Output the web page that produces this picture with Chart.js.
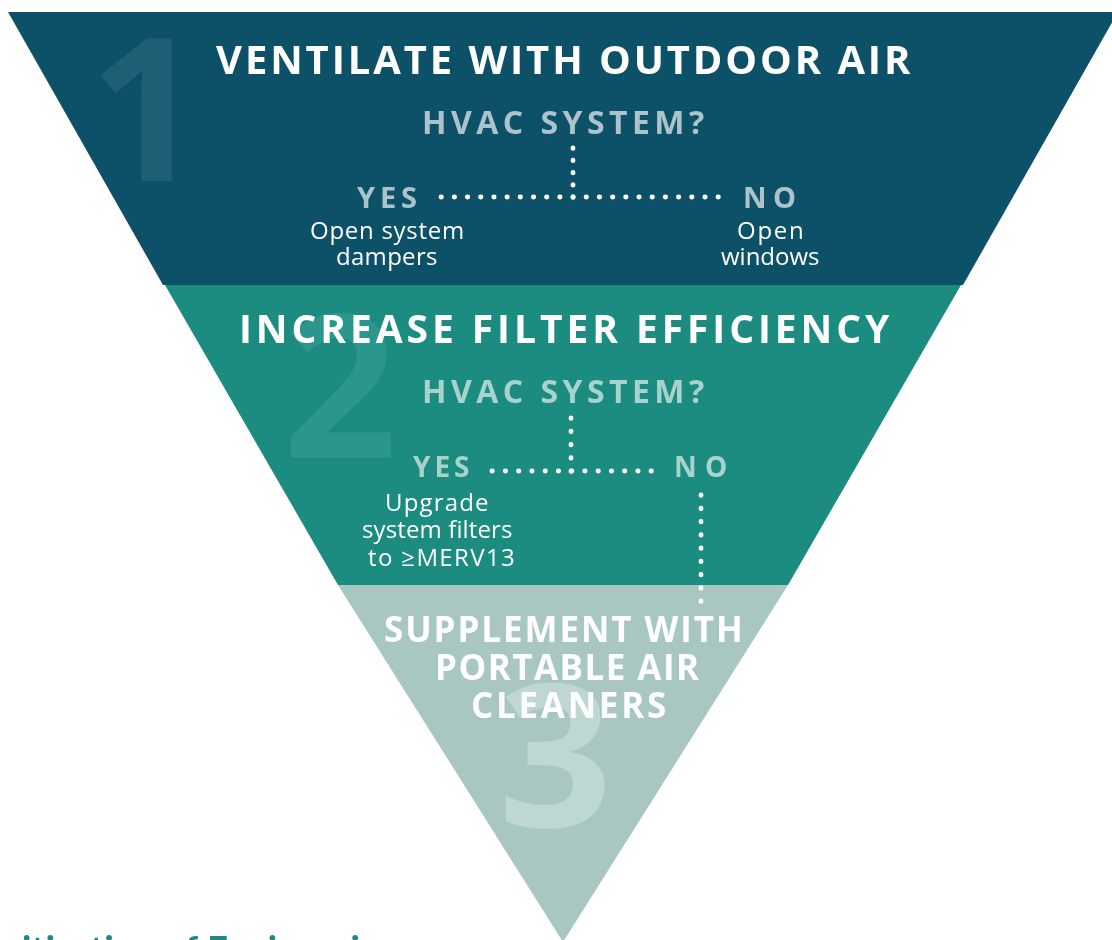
<!DOCTYPE html>
<html>
<head>
<meta charset="utf-8">
<script src="https://cdn.jsdelivr.net/npm/chart.js@4.4.1/dist/chart.umd.min.js"></script>
<style>
  html, body { margin: 0; padding: 0; background: #fff; }
  #wrap { width: 1112px; height: 940px; }
</style>
</head>
<body>
<div id="wrap"><canvas id="pyramid" width="1112" height="940"></canvas></div>
<script>
// ----- data ---------------------------------------------------------------
const stageNumbers = ["1", "2", "3"];
const stageTitles = [
  ["VENTILATE WITH OUTDOOR AIR"],
  ["INCREASE FILTER EFFICIENCY"],
  ["SUPPLEMENT WITH", "PORTABLE AIR", "CLEANERS"],
];
const question = "HVAC SYSTEM?";
const answers = ["YES", "NO"];
const yesActions = [["Open system", "dampers"], ["Upgrade", "system filters", "to \u2265MERV13"]];
const noActions = [["Open", "windows"]];
const footerText = "Prioritization of Engineering";

// band outline (chart units: x across, y down from top)
const bandTop = [12, 285, 585];
const bandBottom = [285, 585, 942];
const bandTopHalfWidth = [555, 398, 225];
const bandBottomHalfWidth = [400, 225, 0];
const centreX = 563;

// dotted connectors [x1, y1, x2, y2]
const connectors = [
  [573, 148, 573, 198], [441, 197, 719, 197],
  [571, 418, 571, 472], [492, 471, 652, 471], [701, 495, 701, 602],
];
const connectorGap = [12.25, 13.19, 13.25, 13.25, 13.25];

// ----- styling ------------------------------------------------------------
const palette = {
  bands: ["#0d5169", "#1c8c80", "#a9c7c2"],
  numbers: ["#1f5e75", "#2b968b", "#bfd7d3"],
  question: ["#adc3cc", "#a8d3cc"],
  footer: "#1c8c80",
};
const FONT = "'Open Sans', Lato, sans-serif";

const bandSets = bandTop.map((top, i) => ({
  data: [
    { x: centreX - bandTopHalfWidth[i], y: top },
    { x: centreX + bandTopHalfWidth[i], y: top },
    { x: centreX + bandBottomHalfWidth[i], y: bandBottom[i] },
    { x: centreX - bandBottomHalfWidth[i], y: bandBottom[i] },
  ],
  showLine: true,
  fill: "shape",
  backgroundColor: palette.bands[i],
  borderWidth: 0,
  pointRadius: 0,
  order: 2,
}));

// dotted lines sit above the bands (lower order draws on top)
const dotSets = connectors.map((c, i) => ({
  data: [{ x: c[0], y: c[1] }, { x: c[2], y: c[3] }],
  showLine: true,
  fill: false,
  borderColor: "#ffffff",
  borderWidth: 4.8,
  borderDash: [0.4, connectorGap[i] - 0.4],
  borderCapStyle: "round",
  pointRadius: 0,
  order: 1,
}));

// text placed by ink extents: left, right, baseline
function span(ctx, str, left, right, base, size, weight, color) {
  ctx.save();
  ctx.font = `${weight} ${size}px ${FONT}`;
  ctx.fillStyle = color;
  ctx.textAlign = "left";
  ctx.textBaseline = "alphabetic";
  if ("letterSpacing" in ctx) ctx.letterSpacing = "0px";
  const m = ctx.measureText(str);
  const ink = m.actualBoundingBoxLeft + m.actualBoundingBoxRight;
  const n = [...str].length;
  if (n > 1 && "letterSpacing" in ctx) {
    ctx.letterSpacing = (right - left - ink) / (n - 1) + "px";
  }
  ctx.fillText(str, left + m.actualBoundingBoxLeft, base);
  ctx.restore();
}

const labelsPlugin = {
  id: "labels",
  afterDatasetsDraw(chart) {
    const { ctx } = chart;
    const sx = chart.scales.x, sy = chart.scales.y;
    const T = (str, l, r, b, size, weight, color) =>
      span(ctx, str, sx.getPixelForValue(l), sx.getPixelForValue(r), sy.getPixelForValue(b), size, weight, color);

    // big stage numbers
    T(stageNumbers[0], 100, 178, 181, 200, 700, palette.numbers[0]);
    T(stageNumbers[1], 290, 397, 457, 200, 700, palette.numbers[1]);
    T(stageNumbers[2], 505, 617, 827, 200, 700, palette.numbers[2]);

    // stage 1
    T(stageTitles[0][0], 216, 911, 74, 40, 700, "#fff");
    T(question, 424, 704, 134, 32, 700, palette.question[0]);
    T(answers[0], 357, 416, 208, 29, 700, palette.question[0]);
    T(answers[1], 745, 795, 208, 29, 700, palette.question[0]);
    T(yesActions[0][0], 311, 463, 239, 24, 400, "#fff");
    T(yesActions[0][1], 337, 437, 265, 24, 400, "#fff");
    T(noActions[0][0], 738, 802, 239, 24, 400, "#fff");
    T(noActions[0][1], 721, 819, 265, 24, 400, "#fff");

    // stage 2
    T(stageTitles[1][0], 242, 890, 343, 39, 700, "#fff");
    T(question, 424, 704, 403, 32, 700, palette.question[1]);
    T(answers[0], 413, 469, 477, 28, 700, palette.question[1]);
    T(answers[1], 676, 726, 477, 28, 700, palette.question[1]);
    T(yesActions[1][0], 387, 488, 511, 24, 400, "#fff");
    T(yesActions[1][1], 363, 512, 538, 24, 400, "#fff");
    T(yesActions[1][2], 368, 514, 566, 24, 400, "#fff");

    // stage 3
    T(stageTitles[2][0], 385, 740, 642, 35, 700, "#fff");
    T(stageTitles[2][1], 438, 700, 680, 35, 700, "#fff");
    T(stageTitles[2][2], 473, 665, 718, 35, 700, "#fff");

    // footer caption, mostly below the bottom edge (only ascender tops show)
    ctx.save();
    const FOOT = "Lato, 'Open Sans', sans-serif";
    ctx.fillStyle = palette.footer;
    ctx.textAlign = "left";
    ctx.font = `700 32px ${FOOT}`;
    const probe = ctx.measureText("itization of ").width;
    const size = 32 * 185 / probe;
    ctx.font = `700 ${size}px ${FOOT}`;
    const lead = ctx.measureText("Prioritization of ").width;
    const cap = ctx.measureText("E").actualBoundingBoxAscent;
    ctx.fillText(footerText, sx.getPixelForValue(207) - lead, sy.getPixelForValue(936) + cap);
    ctx.restore();
  },
};

new Chart(document.getElementById("pyramid"), {
  type: "scatter",
  data: { datasets: [...bandSets, ...dotSets] },
  options: {
    responsive: false,
    animation: false,
    events: [],
    layout: { padding: 0 },
    plugins: { legend: { display: false }, tooltip: { enabled: false } },
    scales: {
      x: { type: "linear", min: 0, max: 1112, display: false },
      y: { type: "linear", min: 0, max: 940, reverse: true, display: false },
    },
  },
  plugins: [labelsPlugin],
});
</script>
</body>
</html>
